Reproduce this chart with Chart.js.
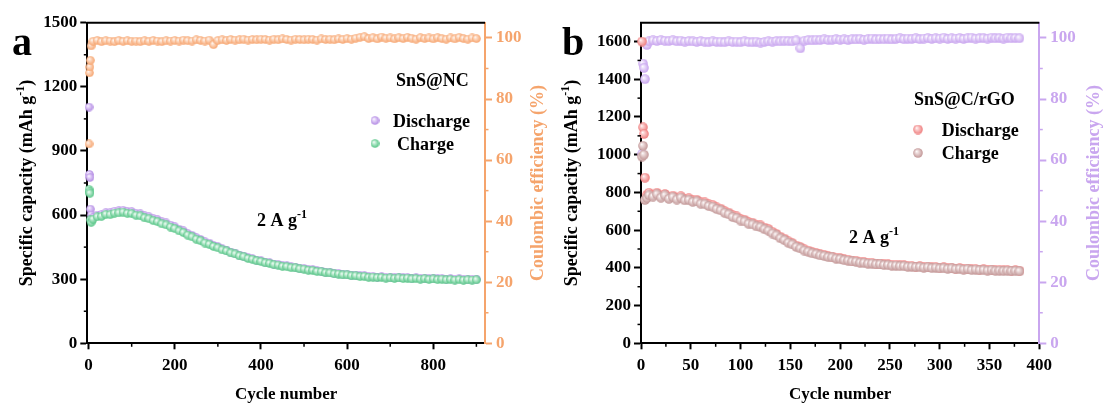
<!DOCTYPE html>
<html><head><meta charset="utf-8">
<script src="https://cdn.jsdelivr.net/npm/chart.js@4.4.1/dist/chart.umd.min.js"></script>
<style>
html,body{margin:0;padding:0;background:#fff;width:1104px;height:405px;overflow:hidden}
canvas{position:absolute;top:0}
#ca{left:0}#cb{left:552px}
</style></head><body>
<canvas id="ca" width="552" height="405"></canvas>
<canvas id="cb" width="552" height="405"></canvas>
<script>
// ---------- Panel a : SnS@NC ----------
const cyclesA = [1,2,3,4,6,10,20,30,40,50,60,70,80,90,100,110,120,130,140,150,160,170,180,190,200,210,220,230,240,250,260,270,280,290,300,310,320,330,340,350,360,370,380,390,400,410,420,430,440,450,460,470,480,490,500,510,520,530,540,550,560,570,580,590,600,610,620,630,640,650,660,670,680,690,700,710,720,730,740,750,760,770,780,790,800,810,820,830,840,850,860,870,880,890,900];
const chargeA = [720,708,702,578,566,
580,592,594,603,602,609,610,614,608,607,
599,596,587,583,574,569,559,554,544,537,
526,518,506,498,487,480,469,463,453,447,
437,432,423,418,409,405,397,393,386,383,
376,374,368,366,360,359,354,353,348,347,
342,341,336,335,330,329,325,324,320,320,
316,316,312,313,309,310,307,308,305,306,
304,306,303,305,301,303,300,302,299,301,
298,300,297,299,296,298,295,297,296,297];
const dischargeA = [1105,790,776,628,600,
588,600,603,611,611,618,619,622,617,616,
608,605,596,592,583,578,568,563,553,545,
534,526,513,505,494,486,475,469,458,452,
442,436,427,422,413,408,400,396,389,386,
379,377,371,369,363,362,357,356,351,350,
345,344,339,338,333,332,328,327,323,323,
319,319,315,316,312,313,310,311,308,309,
307,309,306,308,304,306,303,305,302,304,
301,303,300,302,299,301,298,300,299,300];
const ceA = [65.3,88.6,90.5,92.7,97.4,
98.9,99.2,98.8,99.1,99.0,98.8,99.2,98.9,99.1,98.9,
99.0,98.8,99.1,98.9,99.2,99.0,98.8,99.1,99.0,99.2,
99.0,99.3,99.1,99.0,99.4,99.2,99.0,99.3,97.8,99.2,
99.4,99.2,99.5,99.3,99.4,99.6,99.3,99.5,99.4,99.6,
99.5,99.3,99.6,99.4,99.7,99.5,99.3,99.6,99.5,99.4,
99.6,99.5,99.3,99.7,99.5,99.6,99.4,99.7,99.5,99.8,
99.6,99.9,100.2,100.4,99.8,100.1,99.7,100.3,99.9,100.0,
99.7,100.1,99.8,100.2,99.9,99.6,100.1,99.8,100.0,99.7,
100.1,99.8,99.6,100.0,99.7,100.2,99.8,99.6,100.0,99.8];
const ticksXA = [0,200,400,600,800];
const minorXA = [100,300,500,700,900];
const ticksYA = [0,300,600,900,1200,1500];
const minorYA = [150,450,750,1050,1350];
const ticksCE = [0,20,40,60,80,100];
const minorCE = [10,30,50,70,90];

// ---------- Panel b : SnS@C/rGO ----------
const cyclesB = [1,2,3,4,6,8,12,16,20,24,28,32,36,40,44,48,52,56,60,64,68,72,76,80,84,88,92,96,100,104,108,112,116,120,124,128,132,136,140,144,148,152,156,160,164,168,172,176,180,184,188,192,196,200,204,208,212,216,220,224,228,232,236,240,244,248,252,256,260,264,268,272,276,280,284,288,292,296,300,304,308,312,316,320,324,328,332,336,340,344,348,352,356,360,364,368,372,376,380];
const chargeB = [990,1047,1000,760,770,785,
778,790,772,784,766,775,762,772,758,760,750,752,740,738,728,724,712,705,692,684,670,664,651,646,634,630,620,616,605,597,582,572,557,547,533,524,511,503,492,486,477,473,466,463,457,455,449,447,441,439,434,433,428,427,423,423,419,419,415,415,412,412,409,410,406,407,404,405,401,403,399,401,397,399,395,397,393,395,391,393,389,391,388,389,386,388,385,386,384,385,383,384,382];
const dischargeB = [1600,1145,1110,878,788,798,
787,798,781,792,775,783,771,780,767,769,759,761,749,747,737,733,721,714,701,693,679,673,660,655,643,639,629,625,614,606,591,580,565,555,541,531,518,510,499,492,483,479,472,469,463,460,454,452,446,444,439,438,433,431,427,427,423,423,419,419,416,416,413,413,409,410,407,408,404,406,402,404,400,402,398,400,396,398,394,396,392,394,391,392,389,391,388,389,387,388,386,387,385];
const ceB = [62.0,91.6,90.2,86.5,97.7,98.9,
99.2,99.0,99.3,99.1,99.0,99.2,98.9,99.1,98.8,99.0,98.9,98.7,99.0,98.8,98.6,98.9,98.7,98.8,98.6,98.9,98.7,98.8,98.6,98.9,98.7,98.6,98.8,98.5,98.7,98.9,98.8,99.0,98.9,99.1,99.0,98.9,99.2,96.6,99.1,99.3,99.2,99.4,99.3,99.5,99.3,99.4,99.6,99.4,99.5,99.3,99.6,99.5,99.7,99.4,99.6,99.8,99.5,99.7,99.6,99.8,99.5,99.7,99.9,99.6,99.8,99.7,99.9,99.6,99.8,100.0,99.7,99.9,99.8,100.1,99.7,99.9,99.8,100.0,99.7,99.9,100.1,99.8,99.9,100.0,99.8,100.1,99.9,100.0,99.8,100.1,99.9,100.0,99.9];
const ticksXB = [0,50,100,150,200,250,300,350,400];
const minorXB = [25,75,125,175,225,275,325,375];
const ticksYB = [0,200,400,600,800,1000,1200,1400,1600];
const minorYB = [100,300,500,700,900,1100,1300,1500];

const SERIF = '"Liberation Serif","Times New Roman",serif';

function sphere(color, light, d){
  const c = document.createElement('canvas'); c.width = d; c.height = d;
  const g = c.getContext('2d'); const r = d/2;
  const gr = g.createRadialGradient(r*0.7, r*0.65, 0, r, r, r);
  gr.addColorStop(0, '#ffffff'); gr.addColorStop(0.3, light); gr.addColorStop(1, color);
  g.fillStyle = gr; g.beginPath(); g.arc(r, r, r-0.2, 0, Math.PI*2); g.fill();
  return c;
}

function pts(xs, ys){ return xs.map((x,i)=>({x:x, y:ys[i]})); }

function rich(ctx, parts, x, y, align, size){
  const big = 'bold '+size+'px '+SERIF, small = 'bold '+Math.round(size*0.65)+'px '+SERIF;
  let w = 0;
  for (const [t,s] of parts){ ctx.font = s?small:big; w += ctx.measureText(t).width; }
  let cx = align==='center' ? x - w/2 : x;
  for (const [t,s] of parts){ ctx.font = s?small:big; ctx.fillText(t, cx, s ? y - size*0.42 : y); cx += ctx.measureText(t).width; }
}

const decor = {
  id: 'decor',
  afterDraw(chart, args, o){
    const ctx = chart.ctx, a = chart.chartArea;
    ctx.save();
    ctx.strokeStyle = '#000'; ctx.lineWidth = 2;
    ctx.beginPath(); ctx.moveTo(a.left-1, a.top); ctx.lineTo(a.right, a.top); ctx.stroke();
    for (const m of o.minor){
      const s = chart.scales[m.id];
      ctx.strokeStyle = m.color; ctx.lineWidth = 1.5;
      for (const v of m.values){
        const p = s.getPixelForValue(v);
        ctx.beginPath();
        if (m.id === 'x'){ ctx.moveTo(p, a.bottom); ctx.lineTo(p, a.bottom+3.5); }
        else if (m.id === 'y'){ ctx.moveTo(a.left, p); ctx.lineTo(a.left-3.5, p); }
        else { ctx.moveTo(a.right, p); ctx.lineTo(a.right+3.5, p); }
        ctx.stroke();
      }
    }
    ctx.textBaseline = 'alphabetic'; ctx.textAlign = 'left';
    ctx.fillStyle = '#000'; ctx.font = 'bold 40px '+SERIF;
    ctx.fillText(o.letter[0], o.letter[1], o.letter[2]);
    ctx.font = 'bold 17px '+SERIF; ctx.textAlign = 'center';
    ctx.fillText('Cycle number', (a.left+a.right)/2, o.xTitleY);
    ctx.textAlign = 'left';
    const cy = (a.top + a.bottom)/2;
    ctx.save(); ctx.translate(o.yTitleX, cy); ctx.rotate(-Math.PI/2);
    ctx.fillStyle = '#000';
    rich(ctx, [['Specific capacity (mAh g',0],['-1',1],[')',0]], 0, 6, 'center', 18);
    ctx.restore();
    ctx.save(); ctx.translate(o.y1TitleX, cy); ctx.rotate(-Math.PI/2);
    ctx.fillStyle = o.ceColor;
    rich(ctx, [['Coulombic efficiency (%)',0]], 0, 6, 'center', 18);
    ctx.restore();
    ctx.fillStyle = '#000';
    ctx.font = 'bold 18px '+SERIF;
    ctx.fillText(o.sample[0], o.sample[1], o.sample[2]);
    for (const L of o.legend){
      ctx.drawImage(L.img, L.mx - L.img.width/2, L.my - L.img.height/2);
      ctx.font = 'bold 18px '+SERIF;
      ctx.fillText(L.text, L.tx, L.my + 6);
    }
    rich(ctx, [['2 A g',0],['-1',1]], o.note[0], o.note[1], 'left', 18);
    ctx.restore();
  }
};

function makeChart(id, cfg){
  const tickFont = {family: SERIF, size: 17, weight: 'bold'};
  const setTicks = arr => (s => { s.ticks = arr.map(v => ({value: v})); });
  const plain = v => String(v);
  return new Chart(document.getElementById(id), {
    type: 'scatter',
    data: { datasets: [
      {label: 'Charge', data: pts(cfg.cycles, cfg.charge), pointStyle: cfg.imgC, yAxisID: 'y'},
      {label: 'Discharge', data: pts(cfg.cycles, cfg.discharge), pointStyle: cfg.imgD, yAxisID: 'y'},
      {label: 'Coulombic efficiency', data: pts(cfg.cycles, cfg.ce), pointStyle: cfg.imgE, yAxisID: 'y1'}
    ]},
    options: {
      responsive: false, animation: false, devicePixelRatio: 1,
      layout: {padding: {top: 22.7, left: 0, right: 0, bottom: 0}},
      datasets: {scatter: {clip: false}},
      plugins: {legend: {display: false}, tooltip: {enabled: false}, decor: cfg.decor},
      scales: {
        x: {type: 'linear', position: 'bottom', min: cfg.xMin, max: cfg.xMax,
            afterBuildTicks: setTicks(cfg.ticksX),
            afterFit: s => { s.height = 61.7; },
            ticks: {font: tickFont, color: '#000', padding: 6, callback: plain},
            grid: {drawOnChartArea: false, drawTicks: true, tickLength: 6, tickColor: '#000', tickWidth: 2},
            border: {display: true, color: '#000', width: 2}},
        y: {type: 'linear', position: 'left', min: 0, max: cfg.yMax,
            afterBuildTicks: setTicks(cfg.ticksY),
            afterFit: s => { s.width = cfg.yW; },
            ticks: {font: tickFont, color: '#000', padding: 3, callback: plain},
            grid: {drawOnChartArea: false, drawTicks: true, tickLength: 7, tickColor: '#000', tickWidth: 2},
            border: {display: true, color: '#000', width: 2}},
        y1: {type: 'linear', position: 'right', min: 0, max: 105,
            afterBuildTicks: setTicks(ticksCE),
            afterFit: s => { s.width = cfg.y1W; },
            ticks: {font: tickFont, color: cfg.ceAxis, padding: 4, callback: plain},
            grid: {drawOnChartArea: false, drawTicks: true, tickLength: 7, tickColor: cfg.ceAxis, tickWidth: 2},
            border: {display: true, color: cfg.ceAxis, width: 2}}
      }
    },
    plugins: [decor]
  });
}

// Panel a
const aD = sphere('#b086e2', '#e6d6fa', 9), aC = sphere('#4fc281', '#c4eed6', 9), aE = sphere('#f6a26b', '#fddcc6', 9);
makeChart('ca', {
  cycles: cyclesA, charge: chargeA, discharge: dischargeA, ce: ceA,
  imgC: aC, imgD: aD, imgE: aE, xMin: -3, xMax: 920, yMax: 1500,
  ticksX: ticksXA, ticksY: ticksYA, yW: 87.3, y1W: 67, ceAxis: '#f5a46c',
  decor: {
    minor: [{id: 'x', values: minorXA, color: '#000'}, {id: 'y', values: minorYA, color: '#000'}, {id: 'y1', values: minorCE, color: '#f5a46c'}],
    letter: ['a', 12, 55], xTitleY: 399, yTitleX: 26, y1TitleX: 537, ceColor: '#f5a46c',
    sample: ['SnS@NC', 396, 86],
    legend: [{img: aD, mx: 375, my: 120.5, text: 'Discharge', tx: 393},
             {img: aC, mx: 375, my: 143.5, text: 'Charge', tx: 397}],
    note: [257, 226]
  }
});

// Panel b
const bD = sphere('#ee7a7a', '#fbd0d0', 10), bC = sphere('#c09494', '#eddcdc', 10), bE = sphere('#c6a1ee', '#ede0fb', 10);
makeChart('cb', {
  cycles: cyclesB, charge: chargeB, discharge: dischargeB, ce: ceB,
  imgC: bC, imgD: bD, imgE: bE, xMin: 0, xMax: 400, yMax: 1700,
  ticksX: ticksXB, ticksY: ticksYB, yW: 89, y1W: 64.7, ceAxis: '#c9a6ef',
  decor: {
    minor: [{id: 'x', values: minorXB, color: '#000'}, {id: 'y', values: minorYB, color: '#000'}, {id: 'y1', values: minorCE, color: '#c9a6ef'}],
    letter: ['b', 10, 55], xTitleY: 399, yTitleX: 19, y1TitleX: 541, ceColor: '#c9a6ef',
    sample: ['SnS@C/rGO', 362, 104.5],
    legend: [{img: bD, mx: 366, my: 129.5, text: 'Discharge', tx: 389.7},
             {img: bC, mx: 366, my: 153, text: 'Charge', tx: 389.7}],
    note: [297, 243]
  }
});
</script>
</body></html>
